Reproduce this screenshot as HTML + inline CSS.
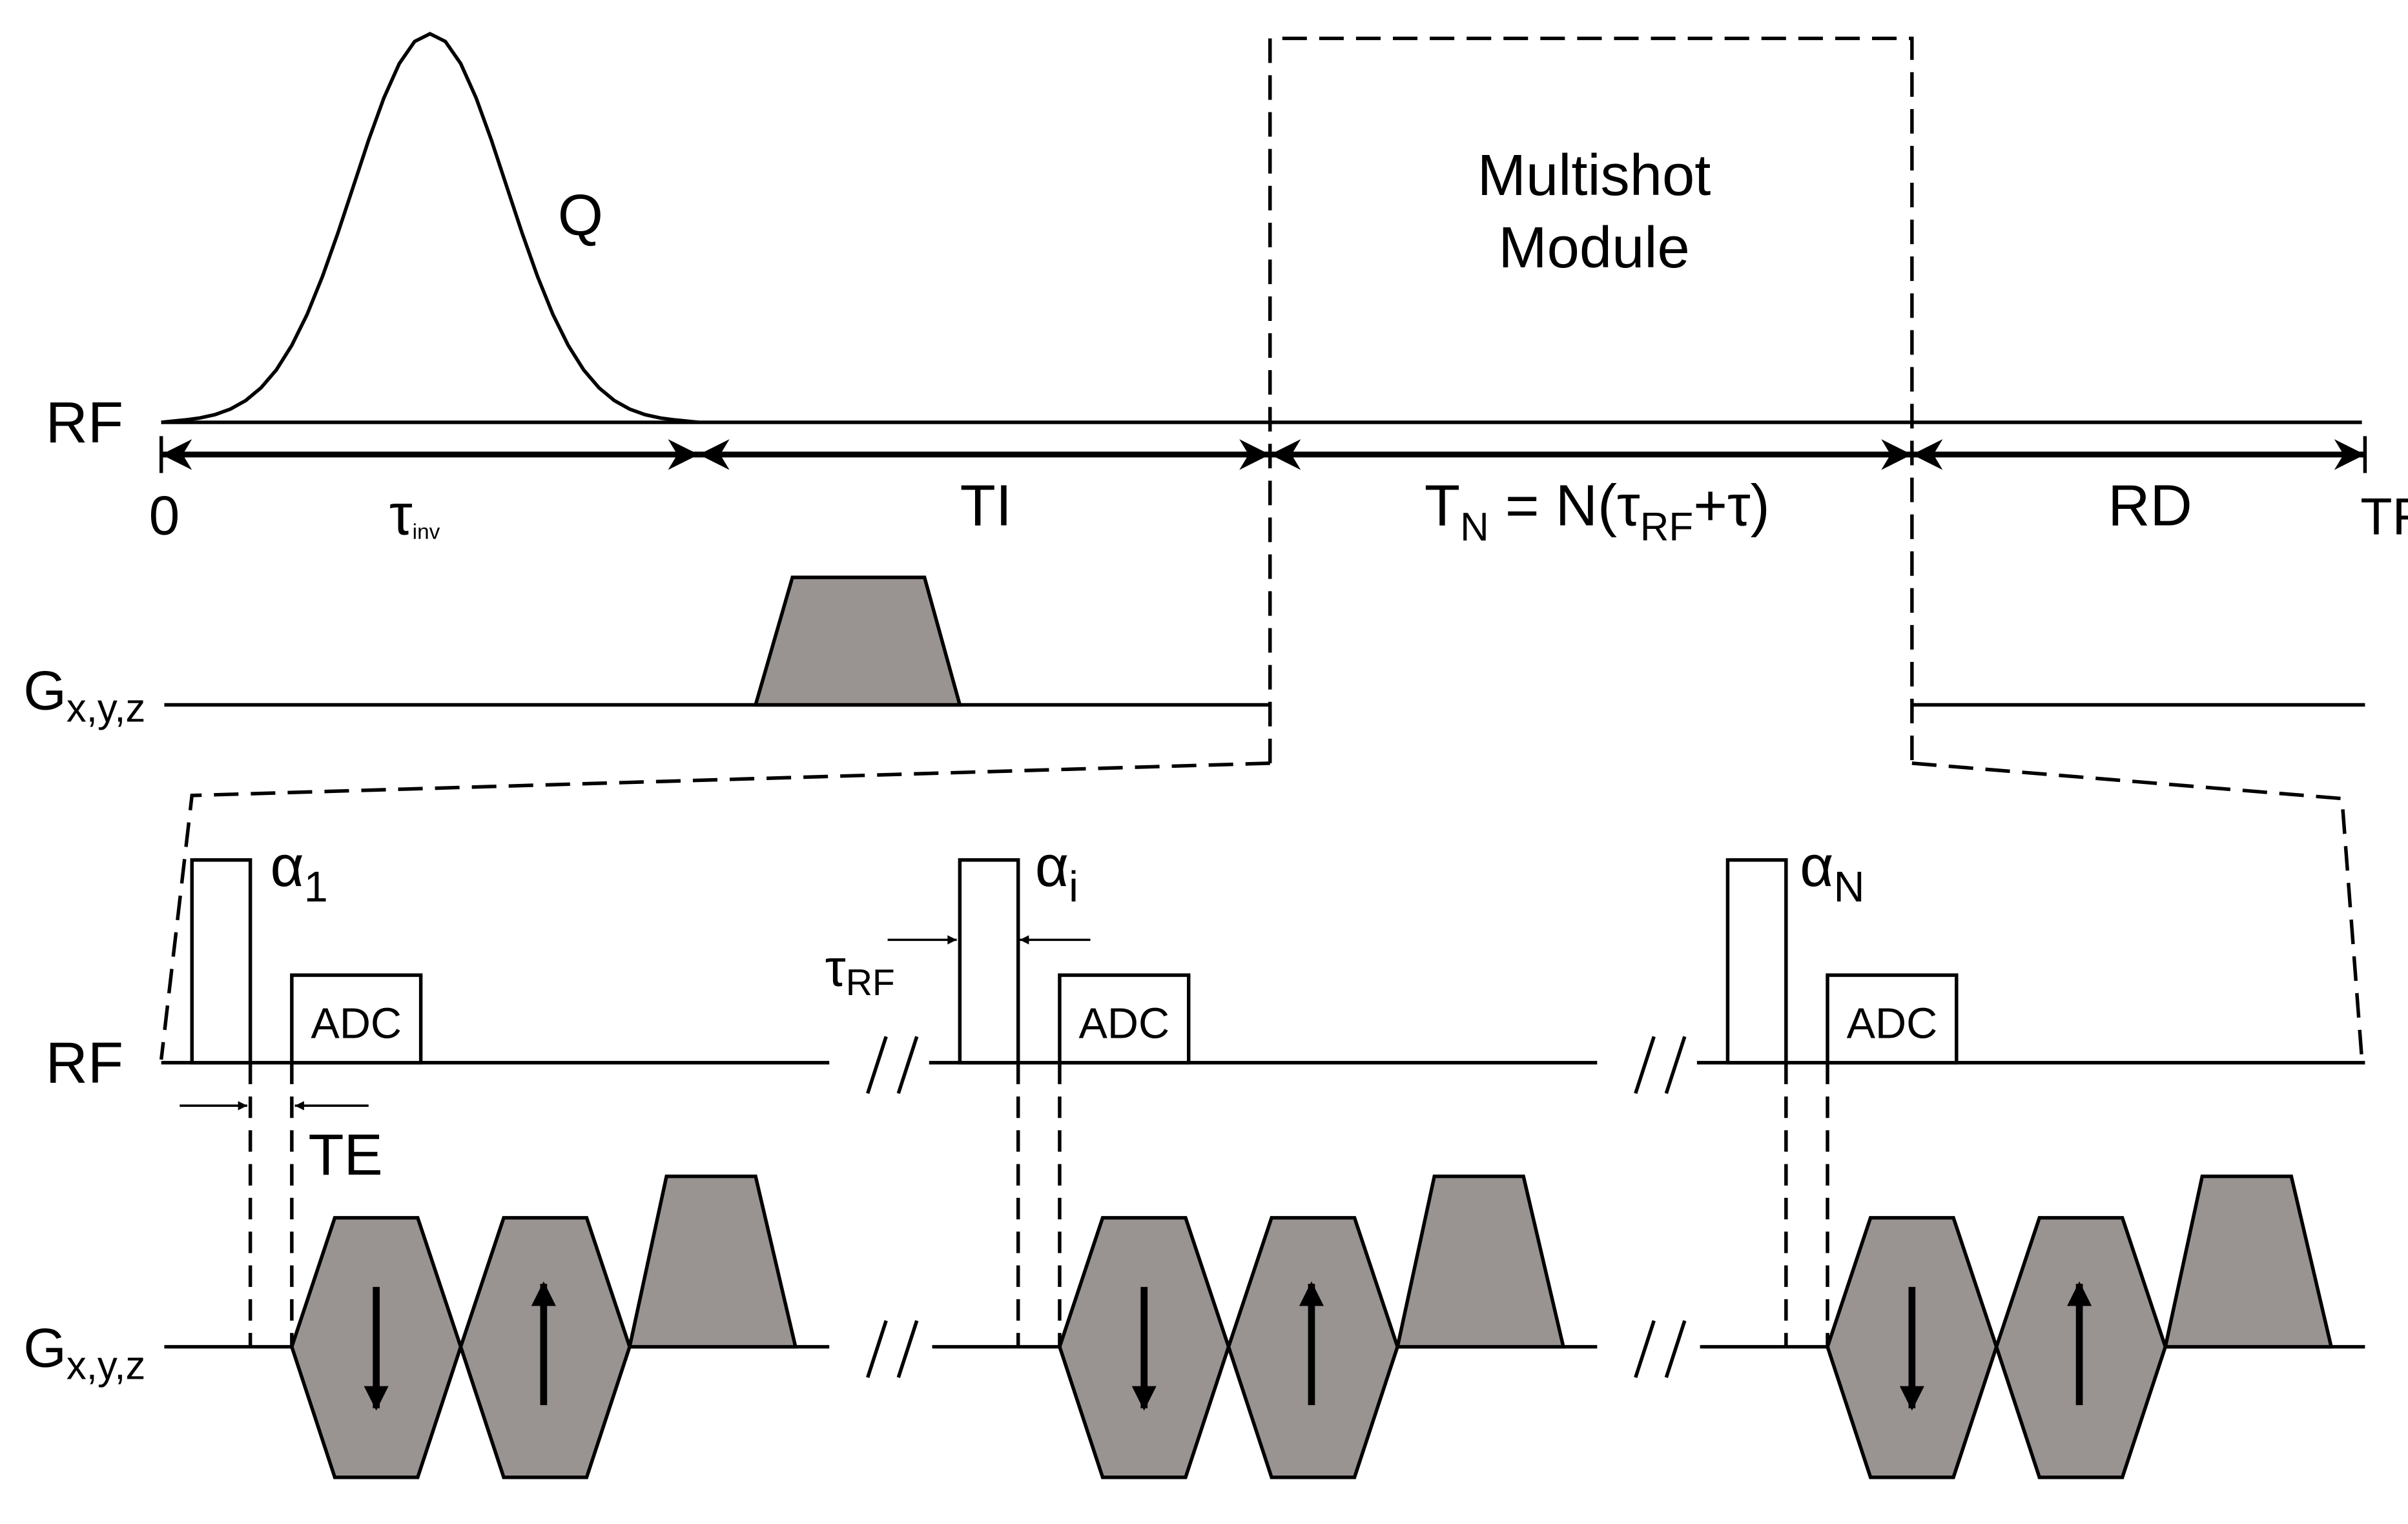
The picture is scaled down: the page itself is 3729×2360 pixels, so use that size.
<!DOCTYPE html>
<html><head><style>html,body{margin:0;padding:0;background:#fff}svg{display:block}</style></head>
<body>
<svg width="3729" height="2360" viewBox="0 0 1568 992.4" preserveAspectRatio="none" xmlns="http://www.w3.org/2000/svg" font-family="'Liberation Sans', 'DejaVu Sans', sans-serif">
<defs>
<marker id="ah" viewBox="0 0 10 10" refX="10" refY="5" markerWidth="9" markerHeight="6" orient="auto-start-reverse" markerUnits="userSpaceOnUse"><path d="M0,0 L10,5 L0,10 z"/></marker>
<marker id="big" viewBox="0 0 10 10" refX="10" refY="5" markerWidth="38" markerHeight="20" orient="auto-start-reverse" markerUnits="userSpaceOnUse"><path d="M0,0 L10,5 L0,10 L3,5 z"/></marker>
<marker id="ga" viewBox="0 0 10 10" refX="9" refY="5" markerWidth="18" markerHeight="16" orient="auto" markerUnits="userSpaceOnUse"><path d="M0,0 L10,5 L0,10 z"/></marker>
</defs>
<g stroke="#000" fill="none" stroke-width="2.3">
<line x1="105" y1="275" x2="1538" y2="275"/>
<polyline points="105,275 120,273.5 130,272.2 140,270 150,266.4 160,260.8 170,252.5 180,240.8 190,224.9 200,204.7 210,180 220,151.8 230,121.6 240,91.3 250,63.7 260,41.4 270,27 280,22 290,27 300,41.4 310,63.7 320,91.3 330,121.6 340,151.8 350,180 360,204.7 370,224.9 380,240.8 390,252.5 400,260.8 410,266.4 420,270 430,272.2 440,273.5 455,275"/>
<g stroke-width="3.8">
<line x1="105" y1="296" x2="455" y2="296" marker-start="url(#big)" marker-end="url(#big)"/>
<line x1="455" y1="296" x2="827" y2="296" marker-start="url(#big)" marker-end="url(#big)"/>
<line x1="827" y1="296" x2="1245" y2="296" marker-start="url(#big)" marker-end="url(#big)"/>
<line x1="1245" y1="296" x2="1540" y2="296" marker-start="url(#big)" marker-end="url(#big)"/>
</g>
<line x1="105" y1="284" x2="105" y2="308"/>
<line x1="1540" y1="284" x2="1540" y2="308"/>
<line x1="107" y1="459" x2="827" y2="459"/>
<line x1="1245" y1="459" x2="1540" y2="459"/>
<polygon points="492,459 516,376 602,376 625,459" fill="#999391"/>
<g stroke-dasharray="16,8">
<polyline points="827,497 827,25 1245,25 1245,497"/>
<polyline points="827,497 125,518 105,690"/>
<polyline points="1245,497 1525,520 1538,690"/>
</g>
</g>
<g font-size="38" text-anchor="middle">
<text x="1038" y="127">Multishot</text>
<text x="1038" y="174">Module</text>
<text x="378" y="153">Q</text>
<text x="55" y="288">RF</text>
<text x="107" y="348" font-size="36">0</text>
<text x="270" y="348">τ<tspan font-size="14" dy="3">inv</tspan></text>
<text x="642" y="342">TI</text>
<text x="1040" y="342">T<tspan font-size="26" dy="10">N</tspan><tspan dy="-10"> = N(τ</tspan><tspan font-size="26" dy="10">RF</tspan><tspan dy="-10">+τ)</tspan></text>
<text x="1400" y="342">RD</text>
<text x="1537" y="348" text-anchor="start" font-size="34">TR</text>
<text x="55" y="462" font-size="36">G<tspan font-size="26" dy="8">x,y,z</tspan></text>
<text x="55" y="705">RF</text>
<text x="55" y="890" font-size="36">G<tspan font-size="26" dy="8">x,y,z</tspan></text>
<text x="225" y="765">TE</text>
<text x="560" y="642" font-size="34">τ<tspan font-size="24" dy="6">RF</tspan></text>
</g>
<g stroke="#000" stroke-width="1.5" fill="none">
<line x1="117" y1="720" x2="161" y2="720" marker-end="url(#ah)"/>
<line x1="240" y1="720" x2="192" y2="720" marker-end="url(#ah)"/>
<line x1="578" y1="612" x2="623" y2="612" marker-end="url(#ah)"/>
<line x1="710" y1="612" x2="664" y2="612" marker-end="url(#ah)"/>
</g>
<g id="b0">
<g stroke="#000" stroke-width="2.3" fill="none">
<line x1="105" y1="692" x2="540" y2="692"/>
<rect x="125" y="560" width="38" height="132" fill="#fff"/>
<rect x="190" y="635" width="84" height="57" fill="#fff"/>
<line x1="107" y1="877" x2="540" y2="877"/>
<g stroke-dasharray="14,8"><line x1="163" y1="692" x2="163" y2="877"/><line x1="190" y1="692" x2="190" y2="877"/></g>
<polygon points="190,877 218,793 272,793 300,877 272,962 218,962" fill="#999391"/>
<polygon points="300,877 328,793 382,793 410,877 382,962 328,962" fill="#999391"/>
<polygon points="410,877 434,766 492,766 518,877" fill="#999391"/>
<line x1="245" y1="838" x2="245" y2="917" stroke-width="4.5" marker-end="url(#ga)"/>
<line x1="354" y1="915" x2="354" y2="836" stroke-width="4.5" marker-end="url(#ga)"/>
</g>
<text x="232" y="676" font-size="28" text-anchor="middle">ADC</text>
</g>
<use href="#b0" transform="translate(500,0)"/>
<use href="#b0" transform="translate(1000,0)"/>
<g font-size="38">
<text x="176" y="577">α<tspan font-size="28" dy="10">1</tspan></text>
<text x="674" y="577">α<tspan font-size="28" dy="10">i</tspan></text>
<text x="1172" y="577">α<tspan font-size="28" dy="10">N</tspan></text>
</g>
<g stroke="#000" stroke-width="2.3">
<line x1="565" y1="712" x2="577" y2="675"/><line x1="585" y1="712" x2="597" y2="675"/>
<line x1="565" y1="897" x2="577" y2="860"/><line x1="585" y1="897" x2="597" y2="860"/>
<line x1="1065" y1="712" x2="1077" y2="675"/><line x1="1085" y1="712" x2="1097" y2="675"/>
<line x1="1065" y1="897" x2="1077" y2="860"/><line x1="1085" y1="897" x2="1097" y2="860"/>
</g>
</svg>
</body></html>
